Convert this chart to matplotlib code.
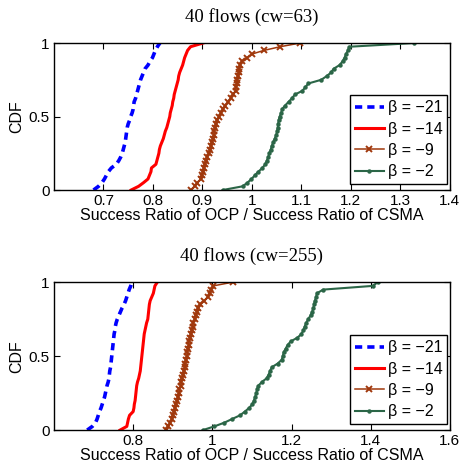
import matplotlib
matplotlib.use('Agg')
import matplotlib.pyplot as plt
import numpy as np

plt.rcParams['font.family'] = 'Liberation Sans'
plt.rcParams['axes.unicode_minus'] = True

# sorted success-ratio samples, one value per CDF step (41 steps)
cw63_b21 = [0.680, 0.690, 0.697, 0.702, 0.706, 0.710, 0.716, 0.726, 0.731, 0.735,
            0.738, 0.740, 0.742, 0.744, 0.745, 0.746, 0.747, 0.748, 0.750, 0.753,
            0.755, 0.758, 0.760, 0.761, 0.762, 0.765, 0.767, 0.769, 0.771, 0.773,
            0.775, 0.778, 0.781, 0.784, 0.790, 0.794, 0.799, 0.802, 0.805, 0.809, 0.814]
cw63_b14 = [0.756, 0.771, 0.781, 0.790, 0.793, 0.796, 0.797, 0.806, 0.808, 0.810,
            0.812, 0.813, 0.815, 0.818, 0.821, 0.823, 0.825, 0.828, 0.830, 0.832,
            0.834, 0.835, 0.837, 0.839, 0.840, 0.842, 0.843, 0.845, 0.847, 0.849,
            0.851, 0.852, 0.854, 0.857, 0.860, 0.862, 0.864, 0.867, 0.870, 0.876, 0.901]
cw63_b9 = [0.877, 0.884, 0.890, 0.897, 0.899, 0.901, 0.903, 0.905, 0.907, 0.910,
           0.913, 0.915, 0.917, 0.919, 0.921, 0.923, 0.924, 0.926, 0.928, 0.930,
           0.933, 0.937, 0.941, 0.946, 0.952, 0.957, 0.962, 0.967, 0.968, 0.969,
           0.970, 0.972, 0.973, 0.974, 0.976, 0.980, 0.990, 1.000, 1.024, 1.057, 1.097]
cw63_b2 = [0.941, 0.981, 0.991, 0.999, 1.006, 1.013, 1.021, 1.027, 1.030, 1.033,
           1.035, 1.038, 1.040, 1.043, 1.046, 1.049, 1.051, 1.052, 1.053, 1.054,
           1.056, 1.059, 1.061, 1.067, 1.074, 1.081, 1.087, 1.102, 1.108, 1.114,
           1.140, 1.151, 1.160, 1.165, 1.177, 1.183, 1.187, 1.190, 1.194, 1.197, 1.327]

cw255_b21 = [0.684, 0.697, 0.705, 0.709, 0.712, 0.715, 0.719, 0.722, 0.725, 0.728,
             0.730, 0.732, 0.734, 0.737, 0.739, 0.740, 0.741, 0.743, 0.744, 0.745,
             0.746, 0.747, 0.748, 0.749, 0.750, 0.751, 0.752, 0.754, 0.755, 0.757,
             0.760, 0.764, 0.768, 0.772, 0.777, 0.781, 0.784, 0.787, 0.790, 0.794, 0.797]
cw255_b14 = [0.767, 0.784, 0.786, 0.788, 0.791, 0.800, 0.802, 0.803, 0.805, 0.806,
             0.807, 0.808, 0.809, 0.811, 0.814, 0.816, 0.818, 0.819, 0.820, 0.821,
             0.822, 0.823, 0.824, 0.825, 0.826, 0.827, 0.828, 0.830, 0.832, 0.834,
             0.837, 0.838, 0.839, 0.840, 0.841, 0.843, 0.847, 0.851, 0.853, 0.855, 0.861]
cw255_b9 = [0.884, 0.889, 0.894, 0.897, 0.900, 0.903, 0.906, 0.909, 0.911, 0.913,
            0.915, 0.917, 0.920, 0.922, 0.924, 0.926, 0.928, 0.930, 0.932, 0.934,
            0.936, 0.937, 0.938, 0.940, 0.941, 0.943, 0.946, 0.948, 0.950, 0.952,
            0.955, 0.958, 0.961, 0.965, 0.970, 0.980, 0.988, 0.993, 0.997, 1.002, 1.051]
cw255_b2 = [0.976, 1.005, 1.030, 1.050, 1.070, 1.082, 1.093, 1.101, 1.105, 1.108,
            1.111, 1.113, 1.116, 1.125, 1.137, 1.142, 1.146, 1.150, 1.165, 1.175,
            1.178, 1.180, 1.185, 1.190, 1.198, 1.215, 1.225, 1.230, 1.233, 1.237,
            1.242, 1.248, 1.252, 1.255, 1.257, 1.259, 1.262, 1.264, 1.280, 1.405, 1.418]

betas = ['\u03b2 = \u221221', '\u03b2 = \u221214', '\u03b2 = \u22129', '\u03b2 = \u22122']
titles = ['40 flows (cw=63)', '40 flows (cw=255)']
xticks_top = [0.7, 0.8, 0.9, 1, 1.1, 1.2, 1.3, 1.4]
xticks_bot = [0.8, 1, 1.2, 1.4, 1.6]

styles = [dict(color='#0000ff', ls=(0, (2.0, 1.4)), lw=2.6),
          dict(color='#ff0000', ls='-', lw=2.2),
          dict(color='#a0380c', ls='-', lw=1.1, marker='x', ms=4.5, mew=1.4),
          dict(color='#2b6647', ls='-', lw=1.5, marker='o', ms=3.2, mew=0)]

fs = 11

fig = plt.figure(figsize=(4.61, 4.68), dpi=100)
ax1 = fig.add_axes([0.117, 0.594, 0.859, 0.314])
ax2 = fig.add_axes([0.117, 0.081, 0.859, 0.316])

panels = [(ax1, [cw63_b21, cw63_b14, cw63_b9, cw63_b2], titles[0], (0.6, 1.4), xticks_top),
          (ax2, [cw255_b21, cw255_b14, cw255_b9, cw255_b2], titles[1], (0.6, 1.6), xticks_bot)]

for ax, series, title, xl, xt in panels:
    for data, lab, st in zip(series, betas, styles):
        x = np.sort(data)
        y = np.arange(len(x)) / (len(x) - 1.0)
        ax.plot(x, y, label=lab, **st)
    ax.set_xlim(xl)
    ax.set_ylim(0, 1)
    ax.set_xticks(xt)
    ax.set_xticklabels(['%g' % t for t in xt])
    ax.set_yticks([0, 0.5, 1])
    ax.set_yticklabels(['0', '0.5', '1'])
    ax.tick_params(direction='in', top=True, right=True, labelsize=fs, length=4, width=0.8, pad=3)
    for s in ax.spines.values():
        s.set_linewidth(1.0)
    ax.set_title(title, family='Liberation Serif', fontsize=13.5, pad=15)
    ax.set_xlabel('Success Ratio of OCP / Success Ratio of CSMA', fontsize=11.5, labelpad=0)
    ax.set_ylabel('CDF', fontsize=11.5, labelpad=3)
    leg = ax.legend(loc='lower right', bbox_to_anchor=(0.993, 0.04), fontsize=11.5,
                    handlelength=1.8, handletextpad=0.25, borderpad=0.3, labelspacing=0.4,
                    fancybox=False, framealpha=1, borderaxespad=0)
    leg.get_frame().set_edgecolor('black')
    leg.get_frame().set_linewidth(1.0)

fig.savefig('out.png', dpi=100)
